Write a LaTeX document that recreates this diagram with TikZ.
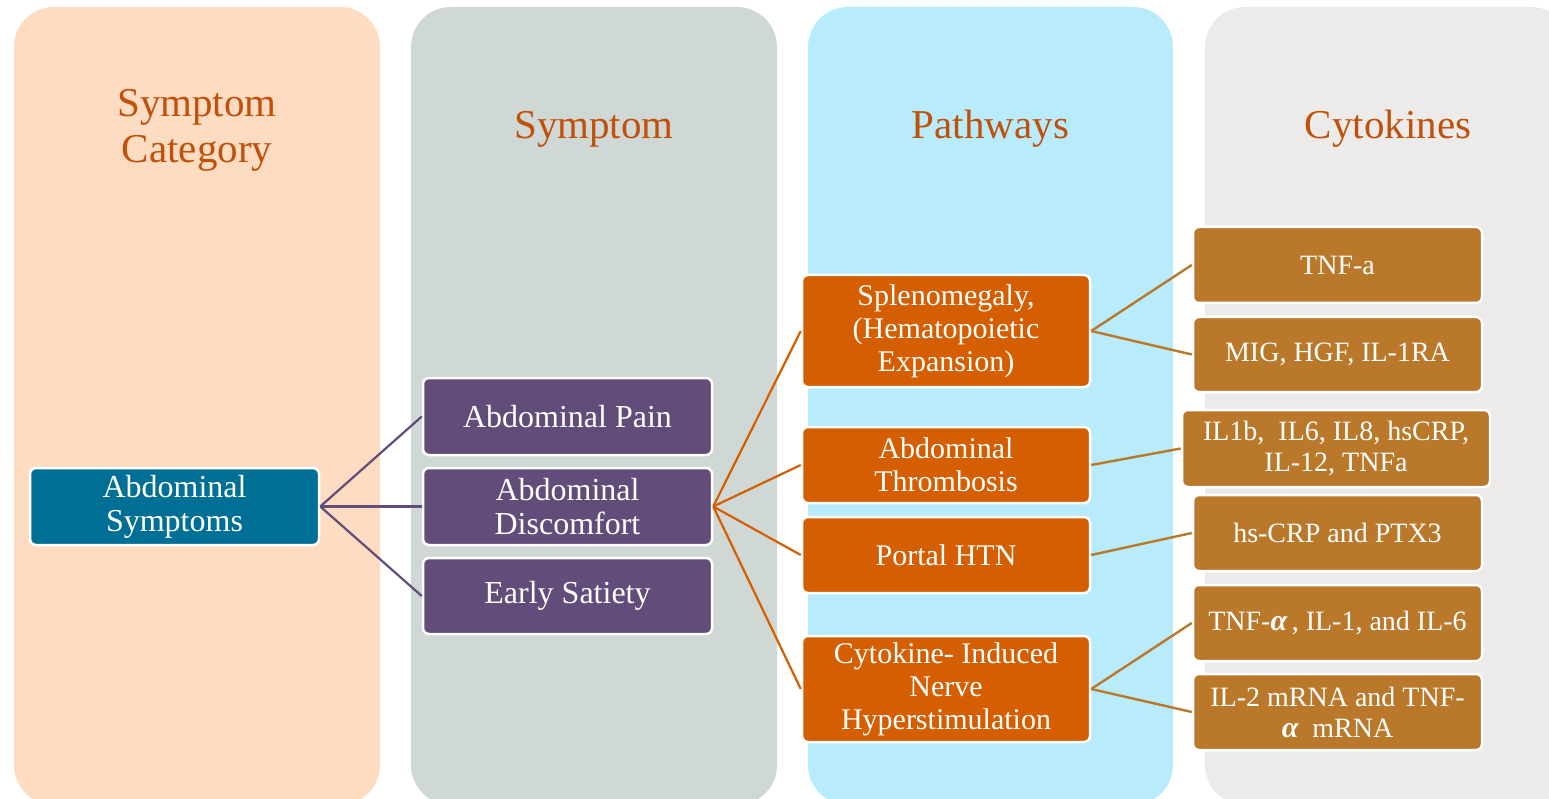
\documentclass[tikz,border=0pt]{standalone}
\usepackage{fontspec}
\setmainfont{Liberation Serif}
\definecolor{panelA}{RGB}{253,220,194}
\definecolor{panelB}{RGB}{208,216,214}
\definecolor{panelC}{RGB}{184,236,252}
\definecolor{panelD}{RGB}{236,235,234}
\definecolor{titlecol}{RGB}{192,80,10}
\definecolor{tealbox}{RGB}{0,111,150}
\definecolor{purplebox}{RGB}{98,76,122}
\definecolor{orangebox}{RGB}{213,94,0}
\definecolor{brownbox}{RGB}{186,120,43}
\newcommand{\alphaglyph}{{\fontsize{30}{30}\selectfont\itshape\bfseries α}}
\tikzset{
  panel/.style={rounded corners=40pt},
  coltitle/.style={text=titlecol, align=center, font=\fontsize{41}{46}\selectfont},
  box/.style={draw=white, line width=2.5pt, rounded corners=6pt, text=white,
    align=center, inner sep=2pt, font=\fontsize{30}{33}\selectfont},
  catbox/.style={box, fill=tealbox, minimum width=289pt, minimum height=77pt,
    font=\fontsize{32}{34}\selectfont},
  symbox/.style={box, fill=purplebox, minimum width=289pt, minimum height=77pt,
    font=\fontsize{32}{34}\selectfont},
  pathbox/.style={box, fill=orangebox, minimum width=288pt, minimum height=76pt},
  cytbox/.style={box, fill=brownbox, minimum width=289pt, minimum height=76pt,
    font=\fontsize{28}{31}\selectfont},
  purplelink/.style={draw=purplebox, line width=2.2pt},
  orangelink/.style={draw=orangebox, line width=2.2pt},
  brownlink/.style={draw=brownbox, line width=2.4pt}
}
\begin{document}
\begin{tikzpicture}[x=1pt, y=-1pt]
\useasboundingbox (0,0) rectangle (1549,799);

% column panels
\fill[panel, panelA] (14,7) rectangle (380,805);
\fill[panel, panelB] (411,7) rectangle (777,805);
\fill[panel, panelC] (808,7) rectangle (1173,805);
\fill[panel, panelD] (1205,7) rectangle (1571,805);

% column headings
\node[coltitle] (tcat) at (197,130) {Symptom\\Category};
\node[coltitle] (tsym) at (594,129) {Symptom};
\node[coltitle] (tpath) at (990.5,129) {Pathways};
\node[coltitle] (tcyt) at (1388,129) {Cytokines};

% symptom category
\node[catbox] (cat) at (174.5,506.5) {Abdominal\\Symptoms};

% symptoms
\node[symbox] (pain) at (567.5,416.5) {Abdominal Pain};
\node[symbox] (disc) at (567.5,506.5) {Abdominal\\Discomfort};
\node[symbox, minimum height=76pt] (early) at (567.5,596) {Early Satiety};

% pathways
\node[pathbox, minimum height=112pt] (sple) at (946,331) {Splenomegaly,\\(Hematopoietic\\Expansion)};
\node[pathbox] (thromb) at (946,465) {Abdominal\\Thrombosis};
\node[pathbox] (portal) at (946,555) {Portal HTN};
\node[pathbox, minimum height=106pt] (nerve) at (946,689) {Cytokine- Induced\\Nerve\\Hyperstimulation};

% cytokines
\node[cytbox] (tnf) at (1337.5,265) {TNF-a};
\node[cytbox, minimum height=75pt] (mig) at (1337.5,354.5) {MIG, HGF, IL-1RA};
\node[cytbox, minimum width=308pt, minimum height=77pt] (ilb) at (1336,448.5) {IL1b,\ \ IL6, IL8, hsCRP,\\IL-12, TNFa};
\node[cytbox] (crp) at (1337.5,533) {hs-CRP and PTX3};
\node[cytbox] (tnfal) at (1337.5,623) {TNF-\alphaglyph\,, IL-1, and IL-6};
\node[cytbox] (iltwo) at (1337.5,712) {IL-2 mRNA and TNF-\\\alphaglyph\ \ mRNA};

% connectors
\draw[purplelink] (cat.east) -- (pain.west);
\draw[purplelink] (cat.east) -- (disc.west);
\draw[purplelink] (cat.east) -- (early.west);

\draw[orangelink] (disc.east) -- (sple.west);
\draw[orangelink] (disc.east) -- (thromb.west);
\draw[orangelink] (disc.east) -- (portal.west);
\draw[orangelink] (disc.east) -- (nerve.west);

\draw[brownlink] (sple.east) -- (tnf.west);
\draw[brownlink] (sple.east) -- (mig.west);
\draw[brownlink] (thromb.east) -- (ilb.west);
\draw[brownlink] (portal.east) -- (crp.west);
\draw[brownlink] (nerve.east) -- (tnfal.west);
\draw[brownlink] (nerve.east) -- (iltwo.west);
\end{tikzpicture}
\end{document}
